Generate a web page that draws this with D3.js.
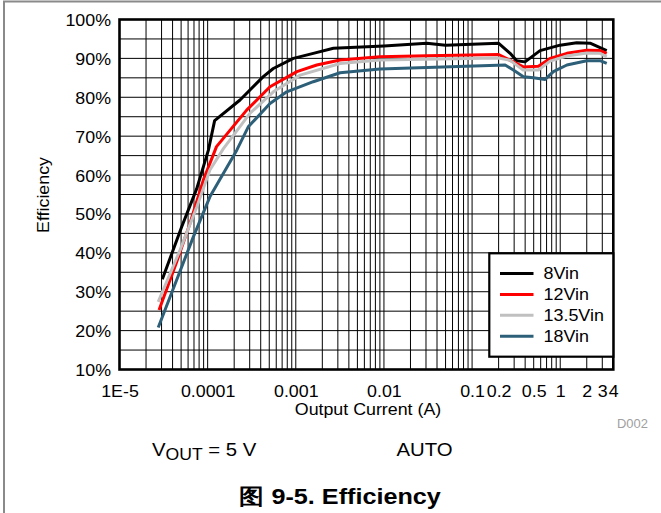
<!DOCTYPE html>
<html><head><meta charset="utf-8">
<script src="https://cdn.jsdelivr.net/npm/d3@7"></script>
<style>
html,body{margin:0;padding:0;background:#fff;}
svg{display:block;font-family:"Liberation Sans",Arial,Helvetica,sans-serif;}
</style></head><body>
<svg id="chart" width="661" height="513"></svg>
<script>
// ---------- data ----------
const seriesNames = ["8Vin", "12Vin", "13.5Vin", "18Vin"];

const current8 = [3.06e-5, 5.08e-5, 7.52e-5, 1.02e-4, 1.2e-4, 2.33e-4, 4.28e-4, 5.56e-4, 9.38e-4, 1.58e-3, 2.67e-3, 0.01, 0.0306, 0.05, 0.199, 0.27, 0.321, 0.399, 0.59, 0.996, 1.54, 2.18, 3.37];
const eff8     = [33.2, 46.7, 56.5, 66.4, 74.0, 79.3, 85.3, 87.4, 90.0, 91.3, 92.6, 93.2, 93.9, 93.4, 93.9, 91.3, 89.4, 89.1, 92.0, 93.4, 94.0, 93.9, 92.0];

const current12 = [2.81e-5, 4.46e-5, 6.31e-5, 8.93e-5, 1.26e-4, 2.77e-4, 5.10e-4, 1.03e-3, 1.73e-3, 3.18e-3, 9.0e-3, 0.0306, 0.2, 0.294, 0.382, 0.565, 0.767, 1.19, 2.0, 2.83, 3.37];
const eff12     = [25.3, 37.7, 47.6, 58.7, 67.3, 76.7, 82.7, 86.6, 88.3, 89.6, 90.4, 90.7, 91.0, 89.1, 87.8, 88.0, 90.0, 91.3, 92.1, 92.0, 91.3];

const current135 = [2.75e-5, 4.86e-5, 7.52e-5, 1.06e-4, 1.51e-4, 3.03e-4, 5.56e-4, 1.12e-3, 3.18e-3, 9.0e-3, 0.2, 0.27, 0.38, 0.565, 0.767, 1.19, 2.0, 2.83, 3.37];
const eff135     = [27.4, 40.7, 51.8, 61.3, 66.8, 75.9, 81.4, 85.7, 88.7, 89.6, 90.1, 89.5, 87.0, 87.0, 89.3, 90.6, 91.4, 91.3, 90.4];

const current18 = [2.75e-5, 6.88e-5, 1.06e-4, 2.14e-4, 2.89e-4, 5.10e-4, 7.89e-4, 1.58e-3, 3.18e-3, 9.0e-3, 0.237, 0.294, 0.382, 0.496, 0.673, 0.836, 1.19, 2.0, 2.83, 3.37];
const eff18     = [20.8, 44.1, 54.4, 66.4, 72.4, 78.4, 81.4, 84.0, 86.3, 87.3, 88.3, 87.0, 85.3, 85.0, 84.6, 86.6, 88.3, 89.4, 89.4, 88.7];

const xTickValues = [1e-5, 1e-4, 1e-3, 0.01, 0.1, 0.2, 0.5, 1, 2, 3, 4];
const xTickLabels = ["1E-5", "0.0001", "0.001", "0.01", "0.1", "0.2", "0.5", "1", "2", "3", "4"];
const yTickValues = [10, 20, 30, 40, 50, 60, 70, 80, 90, 100];
const yTickLabels = ["10%", "20%", "30%", "40%", "50%", "60%", "70%", "80%", "90%", "100%"];
const yGridValues = [15, 20, 25, 30, 35, 40, 45, 50, 55, 60, 65, 70, 75, 80, 85, 90, 95];

// ---------- styles ----------
const colors = ["#000000", "#ff0000", "#c0c0c0", "#2d5f78"];
const FS = 16.5, SX = 1.08;

const series = [
  {name: seriesNames[0], xs: current8, ys: eff8},
  {name: seriesNames[1], xs: current12, ys: eff12},
  {name: seriesNames[2], xs: current135, ys: eff135},
  {name: seriesNames[3], xs: current18, ys: eff18}
];

const svg = d3.select("#chart");
const L = 119.5, R = 613.3, T = 19.5, B = 369.5;
const x = d3.scaleLog().domain([1e-5, 4]).range([L, R]);
const y = d3.scaleLinear().domain([10, 100]).range([B, T]);

// figure frame (top + left)
svg.append("path").attr("d", `M4,513V1.5H661`).attr("fill", "none")
  .attr("stroke", "#8a8a8a").attr("stroke-width", 2);

// gridlines
const grid = svg.append("g");
grid.selectAll("line.v").data(x.ticks().filter(v => v > 1e-5 && v < 4)).join("line")
  .attr("x1", d => x(d)).attr("x2", d => x(d)).attr("y1", T).attr("y2", B)
  .attr("stroke", "#000").attr("stroke-width", 1);
grid.selectAll("line.h").data(yGridValues).join("line")
  .attr("x1", L).attr("x2", R).attr("y1", d => y(d)).attr("y2", d => y(d))
  .attr("stroke", "#000").attr("stroke-width", 1);

// curves
const line = d3.line().x(d => x(d[0])).y(d => y(d[1]));
svg.append("g").selectAll("path").data(series).join("path")
  .attr("d", s => line(s.xs.map((v, i) => [v, s.ys[i]])))
  .attr("fill", "none").attr("stroke", (s, i) => colors[i])
  .attr("stroke-width", 3).attr("stroke-linejoin", "round");

// plot frame
svg.append("rect").attr("x", L).attr("y", T).attr("width", R - L).attr("height", B - T)
  .attr("fill", "none").attr("stroke", "#000").attr("stroke-width", 2.6);

// x axis labels
const xAxis = svg.append("g").attr("transform", `translate(0,${B})`)
  .call(d3.axisBottom(x).tickValues(xTickValues).tickFormat((d, i) => xTickLabels[i]).tickSize(0));
xAxis.select(".domain").remove();
xAxis.selectAll("text").attr("y", 0).attr("dy", null)
  .attr("transform", `translate(0,27) scale(${SX},1)`)
  .attr("font-size", FS).attr("font-family", null).attr("fill", "#000");

// y axis labels
const yAxis = svg.append("g").attr("transform", `translate(${L},0)`)
  .call(d3.axisLeft(y).tickValues(yTickValues).tickFormat((d, i) => yTickLabels[i]).tickSize(0));
yAxis.select(".domain").remove();
yAxis.selectAll("text").attr("x", 0).attr("dy", "0.36em")
  .attr("transform", `translate(-8.5,0) scale(${SX},1)`)
  .attr("font-size", FS).attr("font-family", null).attr("fill", "#000");

// axis titles
svg.append("text").attr("transform", `translate(368,415) scale(${SX},1)`)
  .attr("text-anchor", "middle").attr("font-size", FS).text("Output Current (A)");
svg.append("text").attr("transform", `translate(48.5,195) rotate(-90) scale(${SX},1)`)
  .attr("text-anchor", "middle").attr("font-size", FS).text("Efficiency");

// legend
const lg = svg.append("g");
lg.append("rect").attr("x", 489.3).attr("y", 253.3).attr("width", 124).attr("height", 103.4)
  .attr("fill", "#fff").attr("stroke", "#000").attr("stroke-width", 2.2);
const items = lg.selectAll("g.item").data(series).join("g")
  .attr("transform", (d, i) => `translate(0,${273.5 + i * 20.9})`);
items.append("line").attr("x1", 500).attr("x2", 533.5).attr("y1", 0).attr("y2", 0)
  .attr("stroke", (d, i) => colors[i]).attr("stroke-width", 3);
items.append("text").attr("transform", `translate(543.5,5.8) scale(1.12,1)`)
  .attr("font-size", 16).text(d => d.name);

// D002
svg.append("text").attr("transform", `translate(617,428) scale(${SX},1)`)
  .attr("font-size", 12).attr("fill", "#a0a0a0").text("D002");

// condition text
const vt = svg.append("text").attr("transform", `translate(152,455.5) scale(1.1,1)`).attr("font-size", 18.5);
vt.append("tspan").text("V");
vt.append("tspan").attr("dy", 4.5).attr("font-size", 16).text("OUT");
vt.append("tspan").attr("dy", -4.5).text(" = 5 V");
svg.append("text").attr("transform", `translate(396.5,455.5) scale(1.1,1)`)
  .attr("font-size", 18.5).text("AUTO");

// caption
svg.append("text").attr("transform", `translate(340,503.5) scale(1.12,1)`)
  .attr("text-anchor", "middle").attr("font-size", 22.5).attr("font-weight", "bold")
  .text("图 9-5. Efficiency");
</script></body></html>
